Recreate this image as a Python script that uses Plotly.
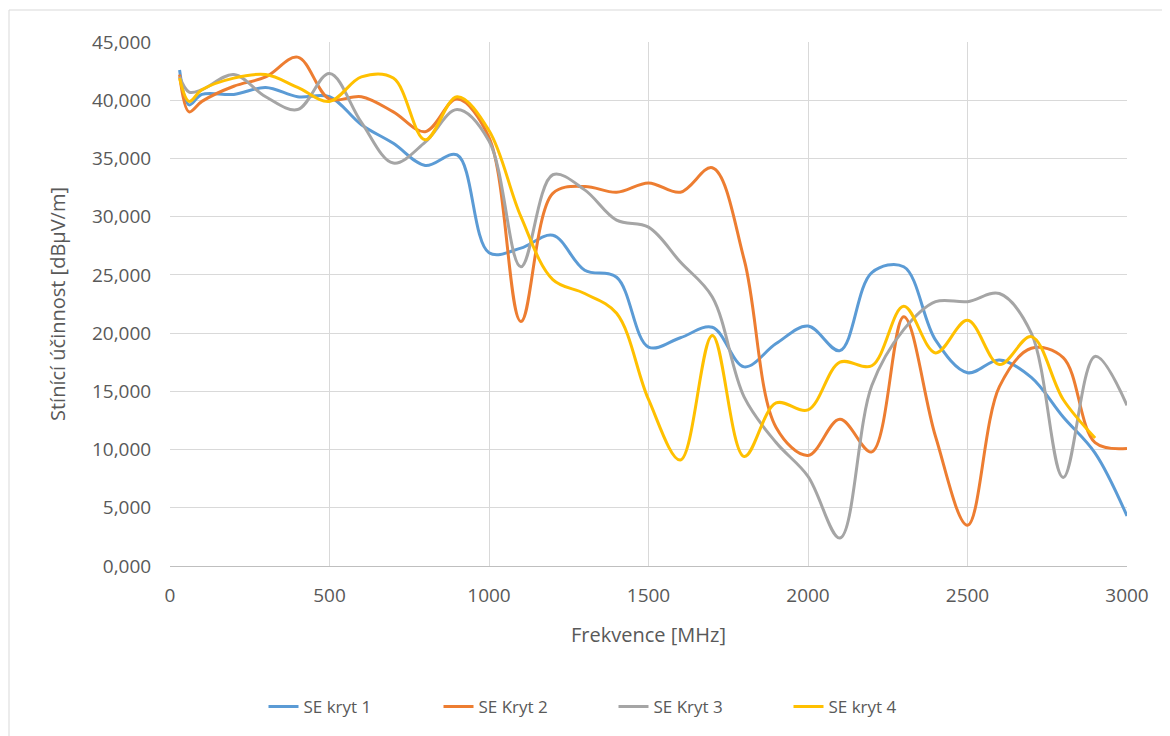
import plotly.graph_objects as go

freq = [30, 60, 100, 200, 300, 400, 500, 600, 700, 800, 900, 1000, 1100, 1200, 1300, 1400, 1500,
        1600, 1700, 1800, 1900, 2000, 2100, 2200, 2300, 2400, 2500, 2600, 2700, 2800, 2900, 3000]

se_kryt1 = [42.6, 39.6, 40.5, 40.5, 41.1, 40.3, 40.3, 37.9, 36.3, 34.4, 35.3, 26.9, 27.3, 28.4, 25.4, 24.8, 18.8,
            19.6, 20.5, 17.1, 19.1, 20.6, 18.5, 25.2, 25.7, 19.4, 16.6, 17.7, 16.2, 12.8, 9.7, 4.3]
se_kryt2 = [42.2, 39.0, 39.9, 41.2, 42.0, 43.7, 40.1, 40.3, 39.0, 37.3, 40.1, 36.8, 21.0, 32.0, 32.6, 32.1, 32.9,
            32.1, 34.2, 26.3, 11.9, 9.5, 12.6, 9.8, 21.4, 11.1, 3.5, 15.4, 18.7, 17.9, 10.6, 10.1]
se_kryt3 = [42.0, 40.7, 40.9, 42.2, 40.3, 39.2, 42.3, 38.1, 34.6, 36.4, 39.2, 36.5, 25.7, 33.6, 32.3, 29.7, 29.1,
            26.1, 23.1, 14.5, 10.6, 7.7, 2.4, 15.5, 20.3, 22.7, 22.7, 23.4, 20.0, 7.6, 18.0, 13.8]
se_kryt4 = [41.9, 39.9, 40.9, 41.9, 42.2, 41.1, 39.9, 42.0, 41.9, 36.6, 40.3, 37.4, 30.0, 24.6, 23.4, 21.7, 14.3,
            9.1, 19.8, 9.4, 14.0, 13.4, 17.5, 17.2, 22.3, 18.3, 21.1, 17.3, 19.7, 14.3, 11.0]

names = ["SE kryt 1", "SE Kryt 2", "SE Kryt 3", "SE kryt 4"]
colors = ["#5B9BD5", "#ED7D31", "#A5A5A5", "#FFC000"]
series = [se_kryt1, se_kryt2, se_kryt3, se_kryt4]

x_ticks = [0, 500, 1000, 1500, 2000, 2500, 3000]
y_ticks = [0, 5, 10, 15, 20, 25, 30, 35, 40, 45]

FONT = "Open Sans"
TXT = "#595959"

fig = go.Figure()
for name, col, ys in zip(names, colors, series):
    fig.add_trace(go.Scatter(
        x=freq[:len(ys)], y=ys, name=name, mode="lines",
        line=dict(color=col, width=3, shape="spline", smoothing=1.0),
    ))

fig.update_layout(
    width=1170, height=736,
    margin=dict(l=162, r=51, t=34, b=178),
    paper_bgcolor="white", plot_bgcolor="white",
    separators=", ",
    font=dict(family=FONT, size=19, color=TXT),
    showlegend=True,
    legend=dict(orientation="h", x=0.5 - 35 / 957, xanchor="center", y=-0.269, yanchor="middle",
                font=dict(family=FONT, size=17, color=TXT), traceorder="normal",
                entrywidth=130, entrywidthmode="pixels"),
    xaxis=dict(range=[0, 3000], tickvals=x_ticks, showgrid=True, gridcolor="#D9D9D9", gridwidth=1,
               zeroline=False, showline=True, linecolor="#BFBFBF", linewidth=1,
               ticks="outside", ticklen=12, tickcolor="rgba(0,0,0,0)",
               tickfont=dict(family=FONT, size=19, color=TXT),
               title=dict(text="Frekvence [MHz]", font=dict(family=FONT, size=20, color=TXT), standoff=21)),
    yaxis=dict(range=[0, 45], tickvals=y_ticks, tickformat=".3f", showgrid=True, gridcolor="#D9D9D9",
               gridwidth=1, zeroline=False, showline=False,
               ticks="outside", ticklen=14, tickcolor="rgba(0,0,0,0)",
               tickfont=dict(family=FONT, size=19, color=TXT),
               title=dict(text="Stínící účinnost [dBμV/m]", font=dict(family=FONT, size=20, color=TXT),
                          standoff=20)),
)

# outer chart border
fig.add_shape(type="rect", xref="paper", yref="paper",
              x0=(9 - 170) / 957, x1=(1200 - 170) / 957,
              y0=(566 - 800) / 524, y1=(566 - 10) / 524,
              line=dict(color="#D9D9D9", width=1), fillcolor="rgba(0,0,0,0)", layer="below")

fig.write_html("out.html")
